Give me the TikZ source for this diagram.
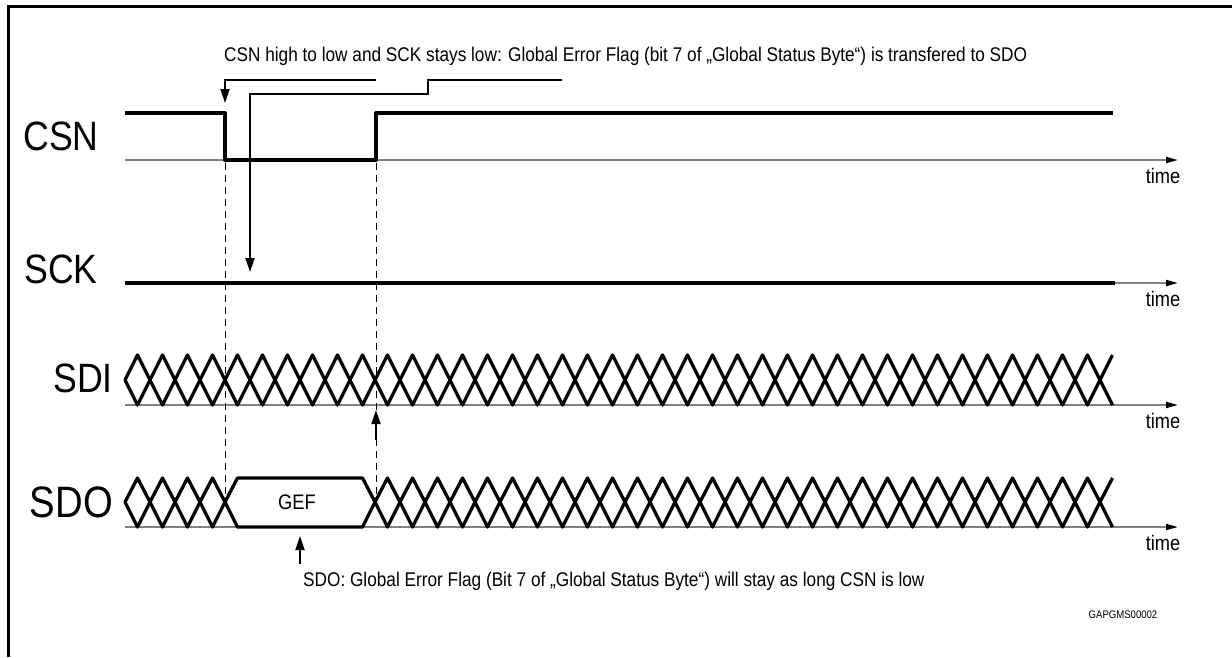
\documentclass[tikz,border=0pt]{standalone}
\usepackage{fontspec}
\setmainfont{Liberation Sans}[FakeStretch=0.87]
\usetikzlibrary{arrows.meta}

\begin{document}
\begin{tikzpicture}[x=1pt, y=-1pt]
	\tikzstyle{every node}=[inner sep=0pt, align=center]
	\tikzstyle{sig}=[line width=3.3pt, line join=round]
	\tikzstyle{timeaxis}=[line width=1.8pt, gray, -{Triangle[length=12pt, width=6pt, black]}]
	\tikzstyle{callout}=[line width=1.8pt, -{Triangle[length=14pt, width=9pt]}]
	\tikzstyle{guide}=[line width=1pt, dash pattern=on 7pt off 5pt]
	\tikzstyle{signame}=[font=\fontsize{41}{41}\selectfont]
	\tikzstyle{txt}=[font=\fontsize{19.8}{20}\selectfont]
	\useasboundingbox (0,0) rectangle (1232,657);
	% frame
	\draw [line width=3pt] (8,657) -- (8,6) -- (1232,6);
	% signal names
	\node [signame] (CSN) at (61,136) {CSN};
	\node [signame] (SCK) at (61,269) {SCK};
	\node [signame, anchor=east] (SDI) at (113,378) {SDI};
	\node [signame, anchor=east, font=\fontsize{44}{44}\selectfont] (SDO) at (113,502) {SDO};
	% time axes
	\foreach \y/\n in {160/a, 283/b, 405/c, 527/d} {
		\coordinate (t\n) at (1178,\y);
		\draw [timeaxis] (125,\y) -- (t\n);
		\node [font=\fontsize{21}{21}\selectfont] at (1163,\y+16) {time};
	}
	% CSN and SCK
	\draw [sig] (125,113) -- (225,113) -- (225,160) -- (376,160) -- (376,113) -- (1113,113);
	\draw [sig] (125,283) -- (1115,283);
	% SDI
	\foreach \c in {125,150,...,1075}
		\draw [sig] (\c,380) -- (\c+12.5,355) -- (\c+25,380) -- (\c+12.5,405) -- cycle;
	\draw [sig] (1112.5,355) -- (1100,380) -- (1112.5,405);
	% SDO
	\foreach \c in {125,150,...,200}
		\draw [sig] (\c,502) -- (\c+12.5,478) -- (\c+25,502) -- (\c+12.5,527) -- cycle;
	\draw [sig] (225,502) -- (237.5,478) -- (362.5,478) -- (375,502) -- (362.5,527) -- (237.5,527) -- cycle;
	\node [font=\fontsize{21}{21}\selectfont] (GEF) at (297,502) {GEF};
	\foreach \c in {375,400,...,1075}
		\draw [sig] (\c,502) -- (\c+12.5,478) -- (\c+25,502) -- (\c+12.5,527) -- cycle;
	\draw [sig] (1112.5,478) -- (1100,502) -- (1112.5,527);
	% dashed guides
	\draw [guide] (225,163) -- (225,500);
	\draw [guide] (376,163) -- (376,500);
	% callouts
	\node [txt, anchor=west] (top) at (224,56) {CSN high to low and SCK stays low: Global Error Flag (bit 7 of „Global Status Byte“) is transfered to SDO};
	\coordinate (fall) at (225,103);
	\coordinate (sckpt) at (250,272);
	\draw [callout] (376,80) -- (225,80) -- (fall);
	\draw [callout] (562,80) -- (428,80) -- (428,94) -- (250,94) -- (sckpt);
	\coordinate (sdipt) at (376,410);
	\draw [callout] (376,440) -- (sdipt);
	\node [txt, anchor=west] (stay) at (303,581) {SDO: Global Error Flag (Bit 7 of „Global Status Byte“) will stay as long CSN is low};
	\coordinate (gefpt) at (300,536);
	\draw [callout] (300,564) -- (gefpt);
	\node [font=\fontsize{11}{11}\selectfont] (code) at (1123,615) {GAPGMS00002};
\end{tikzpicture}
\end{document}
